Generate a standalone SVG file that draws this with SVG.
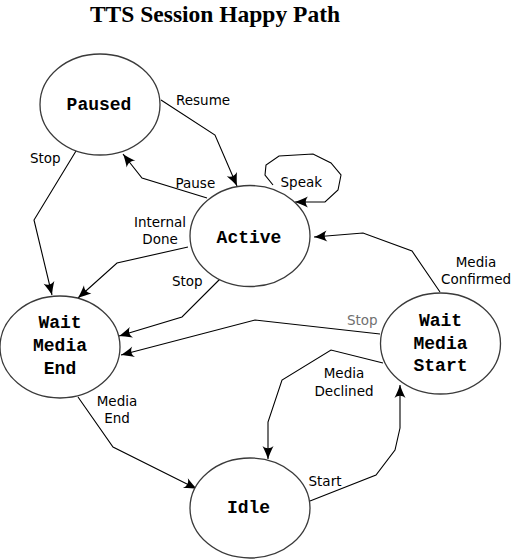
<svg xmlns="http://www.w3.org/2000/svg" width="511" height="559" viewBox="0 0 511 559">
<style>
.node ellipse{fill:#fff;stroke:#3a3a3a;stroke-width:1.3}
.node text{font-family:"Liberation Mono",monospace;font-weight:bold;font-size:18px;text-anchor:middle;fill:#000}
.edge path{fill:none;stroke:#000;stroke-width:1.1;marker-end:url(#arr)}
.lbl{font-family:"DejaVu Sans",sans-serif;font-size:13.5px;fill:#000}
.mid{text-anchor:middle}
.gray{fill:#707070}
.title{font-family:"Liberation Serif",serif;font-weight:bold;font-size:23.5px;text-anchor:middle}
</style>
<defs>
<marker id="arr" markerUnits="userSpaceOnUse" markerWidth="20" markerHeight="20" refX="0" refY="0" orient="auto" overflow="visible">
<path d="M0,0 C-3,-1 -8,-3 -13,-5.5 C-10,-2 -10,2 -13,5.5 C-8,3 -3,1 0,0 Z" fill="#000" stroke="none"/>
</marker>
</defs>
<rect width="511" height="559" fill="#fff"/>
<text class="title" x="215" y="21.5">TTS Session Happy Path</text>
<g id="connectors" class="edge">
<path d="M161,100 L215,135 L237,186"/>
<path d="M207,198 L142,178 L123,154"/>
<path d="M273,185 L265,175 L266,165 L279,156 L313,154 L331,163 L341,175 L338,190 L325,202 L295,202"/>
<path d="M76,151 L34,220 L52,295"/>
<path d="M188,247 L117,263 L78,298"/>
<path d="M220,279 L182,317 L119,336"/>
<path d="M440,292 L412,251 L363,233 L314,237"/>
<path d="M380,334 L255,320 L121,355"/>
<path d="M383,363 L331,350 L282,380 L268,422 L268,459"/>
<path d="M310,501 L376,475 L395,450 L400,428 L400,385"/>
<path d="M78,397 L113,447 L197,489"/>
</g>
<g id="labels">
<text class="lbl" x="176" y="105">Resume</text>
<text class="lbl" x="175.5" y="187.5">Pause</text>
<text class="lbl" x="280.5" y="187">Speak</text>
<text class="lbl" x="30" y="163">Stop</text>
<text class="lbl mid" x="160" y="227">Internal</text>
<text class="lbl mid" x="160" y="244">Done</text>
<text class="lbl" x="172" y="286">Stop</text>
<text class="lbl mid" x="476" y="267">Media</text>
<text class="lbl mid" x="476" y="284">Confirmed</text>
<text class="lbl gray" x="347" y="325">Stop</text>
<text class="lbl mid" x="344" y="378">Media</text>
<text class="lbl mid" x="344" y="395.5">Declined</text>
<text class="lbl" x="308.5" y="486">Start</text>
<text class="lbl mid" x="117" y="406">Media</text>
<text class="lbl mid" x="117" y="423">End</text>
</g>
<g id="paused" class="node"><ellipse cx="100" cy="104.5" rx="60" ry="50.5"/><text x="99" y="110">Paused</text></g>
<g id="active" class="node"><ellipse cx="250" cy="236" rx="60" ry="50.5"/><text x="249" y="243">Active</text></g>
<g id="wait-media-end" class="node"><ellipse cx="60" cy="347" rx="60" ry="51"/><text x="60" y="328">Wait</text><text x="60" y="351">Media</text><text x="60" y="373.5">End</text></g>
<g id="wait-media-start" class="node"><ellipse cx="440.5" cy="343.5" rx="60" ry="50.5"/><text x="440.5" y="326">Wait</text><text x="440.5" y="348.5">Media</text><text x="440.5" y="371">Start</text></g>
<g id="idle" class="node"><ellipse cx="250" cy="508" rx="60" ry="50"/><text x="248.5" y="513">Idle</text></g>
</svg>
